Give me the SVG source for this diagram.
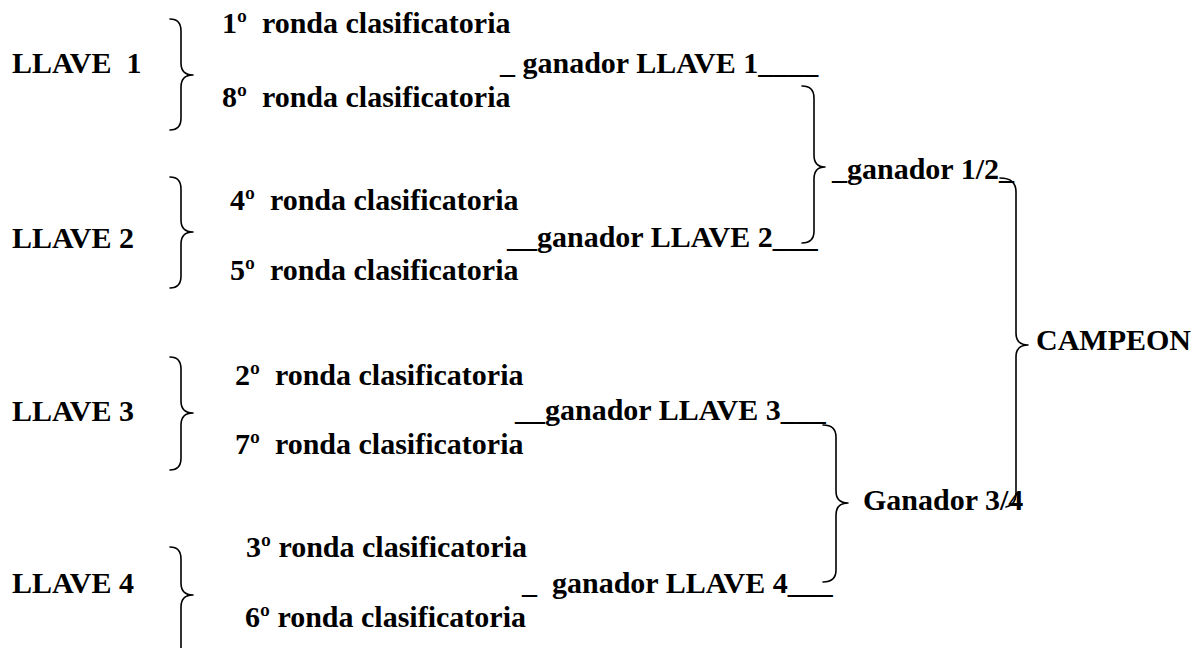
<svg xmlns="http://www.w3.org/2000/svg" width="1193" height="648" viewBox="0 0 1193 648">
<style>
.t{font-family:"Liberation Serif","DejaVu Serif",serif;font-weight:700;font-size:30px;fill:#000;white-space:pre}
.br{fill:none;stroke:#000;stroke-width:1.6;stroke-linecap:round;stroke-linejoin:round}
</style>
<rect width="1193" height="648" fill="#fff"/>
<g id="llave1"><text class="t" x="12" y="73" xml:space="preserve">LLAVE  1</text></g>
<g id="llave2"><text class="t" x="12" y="248">LLAVE 2</text></g>
<g id="llave3"><text class="t" x="12" y="421">LLAVE 3</text></g>
<g id="llave4"><text class="t" x="12" y="593">LLAVE 4</text></g>
<g id="r1"><text class="t" x="222" y="33" xml:space="preserve">1º  ronda clasificatoria</text></g>
<g id="r8"><text class="t" x="222" y="107" xml:space="preserve">8º  ronda clasificatoria</text></g>
<g id="r4"><text class="t" x="230" y="210" xml:space="preserve">4º  ronda clasificatoria</text></g>
<g id="r5"><text class="t" x="230" y="280" xml:space="preserve">5º  ronda clasificatoria</text></g>
<g id="r2"><text class="t" x="235" y="385" xml:space="preserve">2º  ronda clasificatoria</text></g>
<g id="r7"><text class="t" x="235" y="454" xml:space="preserve">7º  ronda clasificatoria</text></g>
<g id="r3"><text class="t" x="246" y="557">3º ronda clasificatoria</text></g>
<g id="r6"><text class="t" x="245" y="627">6º ronda clasificatoria</text></g>
<g id="g1"><text class="t" x="500" y="73" xml:space="preserve">_ ganador LLAVE 1____</text></g>
<g id="g2"><text class="t" x="507" y="247" xml:space="preserve">__ganador LLAVE 2___</text></g>
<g id="g3"><text class="t" x="515" y="420" xml:space="preserve">__ganador LLAVE 3___</text></g>
<g id="g4"><text class="t" x="522" y="593" xml:space="preserve">_  ganador LLAVE 4___</text></g>
<g id="g12"><text class="t" x="832" y="179">_ganador 1/2_</text></g>
<g id="g34"><text class="t" x="863" y="510">Ganador 3/4</text></g>
<g id="campeon"><text class="t" x="1036" y="350">CAMPEON</text></g>
<g id="connectors">
<path class="br" d="M170 19 Q181 19 181 31 L181 63 Q181 75 193 75 Q181 75 181 87 L181 118 Q181 130 170 130"/>
<path class="br" d="M170 177 Q181 177 181 189 L181 220 Q181 232 193 232 Q181 232 181 244 L181 276 Q181 288 170 288"/>
<path class="br" d="M170 357 Q181 357 181 369 L181 401 Q181 413 193 413 Q181 413 181 425 L181 458 Q181 470 170 470"/>
<path class="br" d="M170 547 Q181 547 181 559 L181 583 Q181 595 193 595 Q181 595 181 607 L181 660"/>
<path class="br" d="M802 86 Q814 86 814 98 L814 155 Q814 167 825 167 Q814 167 814 179 L814 231 Q814 243 802 243"/>
<path class="br" d="M823 425 Q836 425 836 437 L836 491 Q836 503 848 503 Q836 503 836 515 L836 570 Q836 582 823 582"/>
<path class="br" d="M1000 178 Q1016 178 1016 192 L1016 333 Q1016 345 1028 345 Q1016 345 1016 357 L1016 493 Q1016 505 1006 507"/>
</g>
</svg>
